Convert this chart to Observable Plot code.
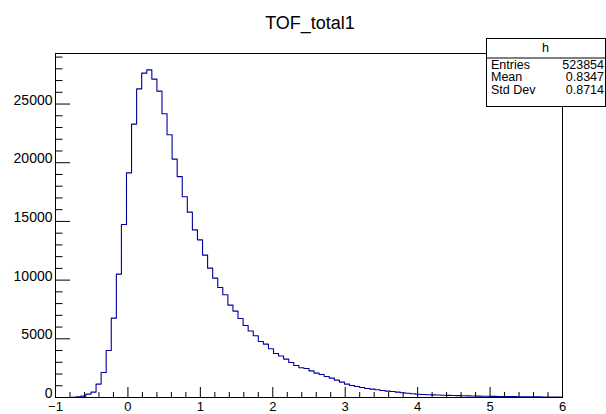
<!DOCTYPE html>
<html>
<head>
<meta charset="utf-8">
<script src="https://cdn.jsdelivr.net/npm/d3@7"></script>
<script src="https://cdn.jsdelivr.net/npm/@observablehq/plot@0.6"></script>
<style>
  html, body { margin: 0; padding: 0; background: #fff; }
  #chart svg { display: block; font-family: "Liberation Sans", Arial, sans-serif; }
</style>
</head>
<body>
<div id="chart"></div>
<script>
// Histogram "h" : 100 bins from -1 to 6
const title = "TOF_total1";
const histName = "h";
const xMin = -1;
const xMax = 6;
const counts = [
  0, 2, 5, 15, 50, 120, 290, 460, 1140, 2130,
  4000, 6760, 10510, 14740, 19140, 23290, 26290, 27630, 27910, 27120,
  26100, 24170, 22380, 20310, 18820, 17100, 15790, 14280, 13430, 12130,
  11020, 10170, 9370, 8750, 7870, 7360, 6730, 6130, 5660, 5260,
  4770, 4550, 4150, 3750, 3530, 3270, 2980, 2730, 2530, 2470,
  2270, 2080, 1960, 1790, 1650, 1480, 1310, 1140, 1020, 940,
  850, 770, 710, 660, 600, 545, 510, 460, 400, 360,
  320, 280, 260, 240, 225, 210, 195, 180, 168, 156,
  145, 135, 126, 118, 110, 103, 96, 90, 84, 78,
  73, 68, 63, 59, 55, 51, 48, 45, 42, 39
];
const statLabels = ["Entries", "Mean", "Std Dev"];
const statValues = ["523854", "0.8347", "0.8714"];
const xMajor = [-1, 0, 1, 2, 3, 4, 5, 6];
const yMajor = [0, 5000, 10000, 15000, 20000, 25000];

const nBins = counts.length;
const binW = (xMax - xMin) / nBins;
const steps = counts.map((c, i) => ({x: xMin + i * binW, y: c}));
steps.push({x: xMax, y: counts[nBins - 1]});
const yTop = 1.05 * d3.max(counts);

const xMinor = d3.range(0, 36).map(i => xMin + i * 0.2).filter((v, i) => i % 5 !== 0);
const yMinor = d3.range(0, yTop, 1000).filter(v => v % 5000 !== 0);

const W = 606, H = 414;
const mL = 55, mR = 44, mT = 53, mB = 17;
const fw = W - mL - mR, fh = H - mT - mB;

const plot = Plot.plot({
  width: W,
  height: H,
  marginLeft: mL,
  marginRight: mR,
  marginTop: mT,
  marginBottom: mB,
  style: {fontFamily: "Liberation Sans, Arial, sans-serif", fontSize: "14px", color: "#000", background: "#fff"},
  x: {domain: [xMin, xMax]},
  y: {domain: [0, yTop]},
  marks: [
    Plot.lineY(steps, {x: "x", y: "y", curve: "step-after", stroke: "#000099", strokeWidth: 1.1}),
    // inside ticks (ROOT style)
    Plot.tickX(xMajor, {x: d => d, insetTop: fh - 10, stroke: "#000", strokeWidth: 1}),
    Plot.tickX(xMinor, {x: d => d, insetTop: fh - 5, stroke: "#000", strokeWidth: 1}),
    Plot.tickY(yMajor, {y: d => d, insetRight: fw - 15, stroke: "#000", strokeWidth: 1}),
    Plot.tickY(yMinor, {y: d => d, insetRight: fw - 7.5, stroke: "#000", strokeWidth: 1}),
    Plot.axisX({ticks: xMajor, tickSize: 0, tickPadding: 4, label: null, fontSize: 13,
      tickFormat: d => (d < 0 ? "\u2212" + Math.abs(d) : String(d))}),
    Plot.axisY({ticks: yMajor, tickSize: 0, tickPadding: 3, label: null, fontSize: 14,
      tickFormat: d => String(d), dy: -4}),
    Plot.frame({stroke: "#000", strokeWidth: 1})
  ]
});

document.getElementById("chart").appendChild(plot);

const svg = d3.select(plot);
// Title
svg.append("text")
  .attr("x", 310).attr("y", 29)
  .attr("text-anchor", "middle")
  .attr("font-size", 18)
  .attr("fill", "#000")
  .text(title);

// Stats box
const bx = 486, by = 38, bw = 119, bh = 68, hdr = 19.5;
const g = svg.append("g").attr("font-size", 12.5).attr("fill", "#000");
g.append("rect").attr("x", bx + 0.5).attr("y", by + 0.5).attr("width", bw).attr("height", bh)
  .attr("fill", "#fff").attr("stroke", "#000").attr("stroke-width", 1);
g.append("line").attr("x1", bx).attr("x2", bx + bw).attr("y1", by + hdr + 0.5).attr("y2", by + hdr + 0.5)
  .attr("stroke", "#000");
g.append("text").attr("x", bx + bw / 2).attr("y", by + 14).attr("text-anchor", "middle").text(histName);
statLabels.forEach((s, i) => {
  const yy = by + hdr + 11 + i * 12.5;
  g.append("text").attr("x", bx + 5).attr("y", yy).attr("text-anchor", "start").text(s);
  g.append("text").attr("x", bx + bw - 1).attr("y", yy).attr("text-anchor", "end").text(statValues[i]);
});
</script>
</body>
</html>
